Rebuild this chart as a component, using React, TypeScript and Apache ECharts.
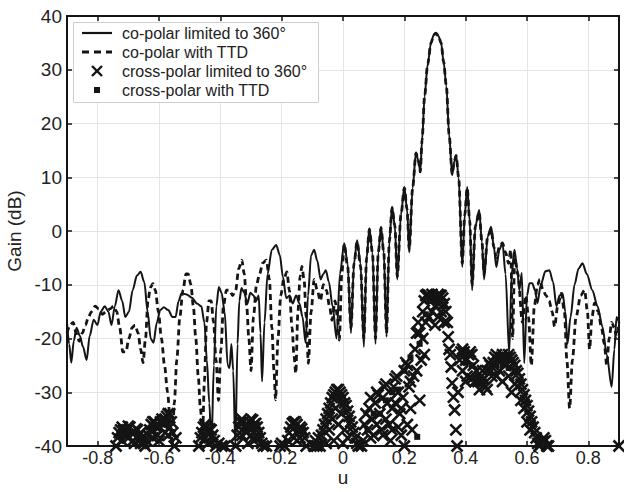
import React, { useEffect, useRef } from "react";
import * as echarts from "echarts";

const xTicks = [-0.8, -0.6, -0.4, -0.2, 0, 0.2, 0.4, 0.6, 0.8];
const yTicks = [-40, -30, -20, -10, 0, 10, 20, 30, 40];

const legendNames = [
  "co-polar limited to 360°",
  "co-polar with TTD",
  "cross-polar limited to 360°",
  "cross-polar with TTD",
];

const coPolar360: number[][] = [
  [-0.9, -17], [-0.893, -21], [-0.886, -24.5], [-0.878, -20.5], [-0.869, -18], [-0.858, -19.5],
  [-0.848, -21.5], [-0.836, -24], [-0.826, -19.5], [-0.813, -16.5], [-0.801, -17.5], [-0.79, -15],
  [-0.777, -14], [-0.765, -15], [-0.755, -17.5], [-0.744, -14], [-0.732, -11], [-0.72, -13],
  [-0.71, -16], [-0.698, -15], [-0.686, -11], [-0.672, -8.3], [-0.66, -7.6], [-0.648, -9.5],
  [-0.637, -15], [-0.627, -20], [-0.618, -20.8], [-0.607, -17], [-0.596, -14.7], [-0.584, -14.2],
  [-0.57, -14.7], [-0.556, -16], [-0.546, -16], [-0.536, -13], [-0.526, -11.6], [-0.51, -11.8],
  [-0.493, -12.4], [-0.476, -13.5], [-0.462, -14], [-0.452, -17], [-0.444, -24], [-0.436, -32],
  [-0.429, -40], [-0.421, -25], [-0.413, -14], [-0.405, -10.4], [-0.396, -11.5], [-0.386, -15],
  [-0.376, -25], [-0.37, -25.5], [-0.364, -21], [-0.358, -26], [-0.351, -40], [-0.344, -21],
  [-0.338, -13], [-0.331, -10.6], [-0.322, -11.5], [-0.312, -13.5], [-0.302, -11.5], [-0.292, -12],
  [-0.283, -13], [-0.275, -12], [-0.269, -19], [-0.264, -28], [-0.256, -17], [-0.246, -8],
  [-0.232, -3.5], [-0.218, -2.6], [-0.206, -4.5], [-0.196, -8.5], [-0.185, -12.5], [-0.174, -12],
  [-0.164, -13.5], [-0.153, -12], [-0.142, -13.5], [-0.132, -16], [-0.122, -20.8], [-0.114, -12],
  [-0.104, -4.5], [-0.094, -3.5], [-0.084, -5.5], [-0.073, -9], [-0.064, -8], [-0.056, -7.3],
  [-0.046, -9.5], [-0.034, -14], [-0.021, -20], [-0.01, -8], [0.004, -2.3], [0.015, -6],
  [0.026, -19], [0.036, -6], [0.046, -1.7], [0.057, -6], [0.068, -21.6], [0.077, -5],
  [0.086, 0.5], [0.096, -4], [0.106, -21], [0.115, -4], [0.124, 0.8], [0.133, -4],
  [0.142, -19.7], [0.151, -2], [0.16, 4.5], [0.169, 1], [0.177, -9], [0.189, 3],
  [0.2, 8.2], [0.209, 4], [0.216, -4], [0.227, 8], [0.238, 14.6], [0.246, 13],
  [0.252, 11], [0.258, 17], [0.266, 25], [0.276, 31], [0.287, 35], [0.296, 36.5],
  [0.303, 36.8], [0.311, 36.3], [0.32, 35], [0.328, 31.5], [0.337, 27], [0.346, 18],
  [0.356, 10.4], [0.363, 13], [0.369, 14.1], [0.377, 10], [0.389, -6.7], [0.397, 3],
  [0.405, 8.2], [0.413, 2], [0.421, -11], [0.432, 1], [0.444, 3.9], [0.453, -2],
  [0.46, -9], [0.472, -1], [0.483, 0.8], [0.492, -3], [0.5, -6.7], [0.51, -3.5],
  [0.52, -2.2], [0.53, -8], [0.542, -22.8], [0.55, -8], [0.559, -3.5], [0.568, -7],
  [0.575, -11], [0.583, -7.8], [0.591, -24.6], [0.6, -12], [0.608, -9.7], [0.617, -9.7],
  [0.626, -11], [0.634, -13.4], [0.645, -10], [0.66, -7.5], [0.673, -7.3], [0.685, -9.5],
  [0.696, -14], [0.706, -12], [0.716, -11.6], [0.725, -15], [0.732, -21], [0.742, -16],
  [0.755, -10], [0.768, -7], [0.781, -6], [0.795, -8], [0.813, -11], [0.83, -14],
  [0.846, -17.8], [0.86, -23], [0.876, -29], [0.885, -22], [0.892, -16], [0.9, -17],
];

const coPolarTTD: number[][] = [
  [-0.9, -19], [-0.89, -17.5], [-0.88, -17], [-0.87, -19], [-0.86, -20.5], [-0.85, -19],
  [-0.84, -17.5], [-0.83, -16], [-0.82, -15], [-0.808, -14], [-0.796, -14.5], [-0.785, -15.5],
  [-0.772, -15], [-0.76, -14.5], [-0.748, -14], [-0.738, -15], [-0.728, -18], [-0.718, -22.5],
  [-0.708, -22.5], [-0.698, -20], [-0.688, -18], [-0.678, -17.5], [-0.668, -19], [-0.66, -22],
  [-0.652, -24.5], [-0.644, -20], [-0.636, -13], [-0.628, -10.5], [-0.62, -9.8], [-0.612, -11],
  [-0.602, -15], [-0.592, -20], [-0.582, -25], [-0.572, -30], [-0.564, -35], [-0.557, -40],
  [-0.55, -32], [-0.542, -24], [-0.532, -16], [-0.522, -11], [-0.512, -8], [-0.505, -8],
  [-0.496, -10], [-0.488, -14], [-0.48, -20], [-0.472, -27], [-0.465, -33], [-0.458, -38],
  [-0.452, -28], [-0.445, -17], [-0.437, -13], [-0.43, -13], [-0.422, -17], [-0.414, -24],
  [-0.406, -31.5], [-0.398, -22], [-0.39, -14], [-0.38, -11], [-0.37, -11], [-0.36, -12],
  [-0.35, -11], [-0.34, -7], [-0.33, -5.4], [-0.322, -8], [-0.314, -14], [-0.307, -20],
  [-0.3, -26], [-0.292, -16], [-0.282, -10], [-0.272, -8], [-0.262, -6], [-0.25, -5.4],
  [-0.24, -9], [-0.232, -18], [-0.225, -26], [-0.22, -31.4], [-0.212, -20], [-0.203, -12],
  [-0.193, -9], [-0.183, -7.6], [-0.175, -11], [-0.166, -18], [-0.16, -23], [-0.154, -26.5],
  [-0.147, -15], [-0.14, -8.5], [-0.134, -6.6], [-0.127, -9], [-0.12, -16], [-0.113, -24.6],
  [-0.104, -15], [-0.094, -9], [-0.084, -11], [-0.074, -13], [-0.064, -10], [-0.054, -11],
  [-0.044, -14], [-0.036, -16.6], [-0.026, -13], [-0.018, -16], [-0.012, -20.3], [-0.004, -8],
  [0.004, -2.5], [0.015, -6.5], [0.026, -18], [0.036, -6], [0.046, -2], [0.057, -6.5],
  [0.068, -20], [0.077, -5], [0.086, 0.3], [0.096, -4], [0.106, -20], [0.115, -4],
  [0.124, 0.6], [0.133, -4], [0.142, -19], [0.151, -2], [0.16, 4.3], [0.169, 1],
  [0.177, -8.5], [0.189, 3], [0.2, 8], [0.209, 4], [0.216, -3.5], [0.227, 8],
  [0.238, 14.5], [0.246, 13], [0.252, 11], [0.258, 17], [0.266, 25], [0.276, 31],
  [0.287, 35], [0.296, 36.5], [0.303, 36.8], [0.311, 36.3], [0.32, 35], [0.328, 31.5],
  [0.337, 27], [0.346, 18], [0.356, 10.6], [0.363, 13], [0.369, 14], [0.377, 10],
  [0.389, -6], [0.397, 3], [0.405, 8], [0.413, 2], [0.421, -10], [0.432, 1],
  [0.444, 3.5], [0.453, -2], [0.46, -8], [0.472, -1], [0.483, 0.3], [0.492, -3],
  [0.5, -5], [0.51, -3], [0.52, -2.2], [0.53, -4], [0.54, -6], [0.547, -3.5],
  [0.553, -20], [0.56, -5], [0.57, -8], [0.585, -17], [0.596, -12], [0.605, -16],
  [0.614, -25], [0.624, -14], [0.634, -10], [0.642, -9], [0.652, -11], [0.662, -12],
  [0.672, -13], [0.682, -15], [0.69, -17.8], [0.7, -14], [0.712, -11.6], [0.722, -15],
  [0.73, -24], [0.739, -33], [0.748, -24], [0.76, -16], [0.775, -12], [0.788, -11],
  [0.797, -15], [0.804, -22], [0.812, -16], [0.82, -13.4], [0.832, -15], [0.843, -18],
  [0.852, -21], [0.86, -25], [0.868, -20], [0.876, -17], [0.885, -18], [0.892, -19.7],
  [0.9, -17],
];

const crossPolar360: number[][] = [
  // lobe around u = -0.69
  [-0.74, -40], [-0.735, -38.5], [-0.73, -37.5], [-0.725, -37], [-0.72, -36.5], [-0.715, -37],
  [-0.71, -38], [-0.705, -37], [-0.7, -36.3], [-0.695, -36.5], [-0.69, -37.5], [-0.685, -39],
  [-0.68, -37.5], [-0.675, -36.8], [-0.67, -37], [-0.665, -38], [-0.66, -37.5], [-0.655, -38.5],
  [-0.65, -39.5], [-0.645, -40], [-0.64, -39],
  [-0.72, -39], [-0.7, -38.5], [-0.68, -39.5], [-0.66, -39.5],
  // lobe around u = -0.59
  [-0.635, -38], [-0.63, -37], [-0.625, -36], [-0.62, -35.5], [-0.615, -35.5], [-0.61, -36.5],
  [-0.605, -38], [-0.6, -36.5], [-0.595, -35.5], [-0.59, -35], [-0.585, -36], [-0.58, -35],
  [-0.575, -34.5], [-0.57, -34], [-0.565, -34], [-0.56, -35.5], [-0.555, -37.5], [-0.55, -40],
  [-0.545, -38.5],
  [-0.62, -38.5], [-0.6, -39], [-0.58, -37.5], [-0.57, -38], [-0.565, -36.5],
  // lobe around u = -0.44
  [-0.47, -40], [-0.465, -38.5], [-0.46, -37.5], [-0.455, -36.5], [-0.45, -36], [-0.445, -36.5],
  [-0.44, -37.5], [-0.435, -36.8], [-0.43, -37], [-0.425, -38], [-0.42, -39], [-0.415, -40],
  [-0.405, -39.5], [-0.395, -40], [-0.385, -40], [-0.45, -38.5], [-0.44, -39.5],
  // lobe around u = -0.30
  [-0.35, -40], [-0.345, -38], [-0.34, -36.5], [-0.335, -35.5], [-0.33, -35], [-0.325, -35.5],
  [-0.32, -36.5], [-0.315, -37.5], [-0.31, -36.5], [-0.305, -35.5], [-0.3, -35], [-0.295, -35.2],
  [-0.29, -36], [-0.285, -35.8], [-0.28, -36.5], [-0.275, -37.5], [-0.27, -38.5], [-0.265, -39.5],
  [-0.26, -40], [-0.25, -40],
  [-0.33, -38], [-0.31, -39.5], [-0.3, -38], [-0.29, -39], [-0.28, -38.5],
  // lobe around u = -0.15
  [-0.205, -40], [-0.2, -39.5], [-0.19, -40], [-0.18, -39], [-0.175, -37.5], [-0.17, -36.5],
  [-0.165, -35.8], [-0.16, -35.5], [-0.155, -35.5], [-0.15, -36], [-0.145, -37], [-0.14, -36.5],
  [-0.135, -36.8], [-0.13, -37.5], [-0.125, -38.5], [-0.12, -40],
  [-0.16, -38.5], [-0.15, -39], [-0.14, -38.5],
  // lobe around u = -0.02
  [-0.095, -40], [-0.09, -39], [-0.085, -40], [-0.08, -38.5], [-0.075, -40], [-0.07, -38],
  [-0.065, -37], [-0.06, -36], [-0.055, -35], [-0.05, -34], [-0.045, -33], [-0.04, -32],
  [-0.035, -31], [-0.03, -30.5], [-0.025, -30], [-0.02, -29.5], [-0.015, -29.5], [-0.01, -30],
  [-0.005, -30.5], [0, -31], [0.005, -32], [0.01, -32.5], [0.015, -33.5], [0.02, -34.5],
  [0.025, -35.5], [0.03, -36.5], [0.035, -37.5], [0.04, -38.5], [0.045, -39.5], [0.05, -40],
  [0.06, -40],
  [-0.055, -39.5], [-0.045, -37], [-0.035, -35], [-0.03, -39], [-0.025, -33], [-0.015, -36],
  [-0.005, -34], [0, -39.5], [0.005, -37], [0.015, -38.5],
  // rising region and main cross-polar lobe
  [0.065, -39], [0.07, -36], [0.075, -34], [0.08, -37], [0.085, -33], [0.09, -31],
  [0.095, -35], [0.1, -38], [0.105, -32], [0.11, -30], [0.115, -30.5], [0.12, -34],
  [0.125, -37], [0.13, -31], [0.135, -29], [0.14, -28.5], [0.145, -32], [0.15, -36],
  [0.155, -39], [0.16, -33], [0.165, -29], [0.17, -27.5], [0.175, -27], [0.18, -30],
  [0.185, -34], [0.19, -38], [0.195, -31], [0.2, -26], [0.2, -40], [0.205, -24.5],
  [0.21, -25], [0.215, -29], [0.22, -33], [0.225, -37], [0.23, -27], [0.235, -22],
  [0.24, -19], [0.245, -17], [0.25, -19], [0.255, -24], [0.26, -15], [0.265, -13],
  [0.27, -12], [0.275, -11.8], [0.28, -12], [0.285, -12.5], [0.29, -11.8], [0.295, -12.5],
  [0.3, -14], [0.305, -12.5], [0.31, -11.8], [0.315, -12], [0.32, -12], [0.325, -12.5],
  [0.33, -13.5], [0.335, -15], [0.34, -17], [0.343, -19.7], [0.346, -22], [0.35, -23],
  [0.353, -25.3], [0.356, -28.3], [0.36, -30.9], [0.364, -33.3], [0.368, -37], [0.372, -40],
  [0.09, -38.5], [0.11, -36], [0.13, -38], [0.14, -35], [0.16, -37], [0.17, -32],
  [0.18, -36.5], [0.19, -33], [0.21, -36], [0.22, -28], [0.24, -26], [0.25, -31.5],
  [0.26, -20], [0.265, -23], [0.27, -17], [0.28, -16], [0.29, -15], [0.3, -17.5],
  [0.31, -16], [0.32, -15], [0.33, -17],
  // shoulder lobes to the right
  [0.375, -30], [0.38, -24], [0.385, -22.5], [0.39, -22], [0.395, -22.5], [0.4, -24],
  [0.405, -27], [0.41, -23], [0.415, -22.5], [0.42, -23], [0.425, -25], [0.43, -28],
  [0.435, -26], [0.44, -28], [0.445, -29.5], [0.45, -28], [0.455, -26], [0.46, -27.5],
  [0.465, -29], [0.47, -26], [0.475, -24.5], [0.48, -25], [0.485, -27], [0.49, -24.5],
  [0.495, -23.5], [0.5, -23], [0.505, -24], [0.51, -26], [0.515, -23.5], [0.52, -23],
  [0.525, -23.5], [0.53, -25], [0.535, -23.5], [0.54, -23], [0.545, -23.5], [0.55, -24],
  [0.555, -24.5], [0.56, -25], [0.565, -26], [0.57, -26.5], [0.575, -27.5], [0.58, -28.5],
  [0.585, -29.5], [0.59, -30.5], [0.595, -31.5], [0.6, -32.5], [0.605, -33.5], [0.61, -34.5],
  [0.615, -35.5], [0.62, -36.5], [0.625, -37.5], [0.63, -38.5], [0.635, -39.5], [0.64, -40],
  [0.645, -39.5], [0.65, -39], [0.655, -38.5], [0.66, -39], [0.665, -40], [0.67, -40],
  [0.39, -26], [0.4, -28], [0.42, -27.5], [0.47, -29.5], [0.5, -27], [0.52, -28],
  [0.54, -27], [0.55, -30], [0.56, -28.5], [0.58, -31.5], [0.59, -33], [0.6, -35.5],
  [0.61, -37],
  [0.9, -40],
];

const crossPolarTTD: number[][] = [
  [-0.72, -38], [-0.7, -37], [-0.68, -37.5], [-0.62, -37], [-0.6, -36], [-0.58, -36],
  [-0.44, -37.5], [-0.32, -36], [-0.3, -36.5], [-0.28, -36], [-0.15, -37], [-0.13, -37],
  [-0.04, -34], [-0.02, -31], [0, -32], [0.02, -35], [0.08, -37], [0.1, -34],
  [0.12, -34], [0.14, -31.5], [0.16, -30], [0.18, -29.5], [0.2, -26], [0.22, -23.5],
  [0.242, -38.3], [0.25, -21], [0.27, -15.5], [0.29, -13], [0.31, -13.5], [0.33, -14],
  [0.4, -24.5], [0.42, -25], [0.44, -27], [0.46, -28], [0.48, -26], [0.5, -25],
  [0.52, -25], [0.54, -25.5], [0.56, -26], [0.58, -28], [0.6, -32], [0.62, -36],
  [0.64, -39],
];

const FONT = "'Liberation Sans', Arial, Helvetica, sans-serif";
const INK = "#141414";
const X_PATH = "path://M0,0L10,10M10,0L0,10";

export default function App() {
  const ref = useRef<HTMLDivElement>(null);

  useEffect(() => {
    document.body.style.margin = "0";
    if (!ref.current) return;
    const chart = echarts.init(ref.current, undefined, { renderer: "svg" });

    const axisCommon = {
      type: "value" as const,
      axisLine: { show: true, onZero: false, lineStyle: { color: INK, width: 2 } },
      axisTick: { show: true, inside: true, length: 5, lineStyle: { color: INK, width: 1.5 } },
    };

    const legendRows = [33, 52, 71, 90];

    chart.setOption({
      animation: false,
      backgroundColor: "#ffffff",
      grid: {
        left: 67,
        right: 5,
        top: 16,
        bottom: 46,
        containLabel: false,
        outerBoundsMode: "none",
      },
      xAxis: [
        {
          ...axisCommon,
          position: "bottom",
          min: -0.9,
          max: 0.9,
          name: "u",
          nameLocation: "middle",
          nameGap: 22,
          nameMoveOverlap: false,
          nameTextStyle: { fontFamily: FONT, fontSize: 19, color: "#222" },
          axisTick: { ...axisCommon.axisTick, customValues: xTicks },
          axisLabel: {
            customValues: xTicks,
            fontFamily: FONT,
            fontSize: 18,
            color: "#222",
            margin: 3,
            formatter: (v: number) => (Math.abs(v) < 1e-9 ? "0" : v.toFixed(1)),
          },
          splitLine: { show: true, lineStyle: { color: "#e4e4e4", width: 1 } },
        },
        {
          ...axisCommon,
          position: "top",
          min: -0.9,
          max: 0.9,
          axisTick: { ...axisCommon.axisTick, customValues: xTicks },
          axisLabel: { show: false },
          splitLine: { show: false },
        },
      ],
      yAxis: [
        {
          ...axisCommon,
          position: "left",
          min: -40,
          max: 40,
          interval: 10,
          name: "Gain (dB)",
          nameLocation: "middle",
          nameGap: 43,
          nameMoveOverlap: false,
          nameTextStyle: { fontFamily: FONT, fontSize: 19, color: "#222" },
          axisLabel: {
            fontFamily: FONT,
            fontSize: 19,
            color: "#222",
            margin: 5,
            customValues: yTicks,
          },
          splitLine: { show: true, lineStyle: { color: "#e4e4e4", width: 1 } },
        },
        {
          ...axisCommon,
          position: "right",
          min: -40,
          max: 40,
          interval: 10,
          axisLabel: { show: false },
          splitLine: { show: false },
        },
      ],
      series: [
        {
          name: legendNames[0],
          type: "line",
          data: coPolar360,
          showSymbol: false,
          smooth: 0.3,
          smoothMonotone: "x",
          lineStyle: { color: INK, width: 2 },
          clip: true,
          z: 3,
        },
        {
          name: legendNames[1],
          type: "line",
          data: coPolarTTD,
          showSymbol: false,
          smooth: 0.3,
          smoothMonotone: "x",
          lineStyle: { color: INK, width: 2.8, type: [6, 4] },
          clip: true,
          z: 3,
        },
        {
          name: legendNames[2],
          type: "scatter",
          data: crossPolar360,
          symbol: X_PATH,
          symbolSize: 11,
          itemStyle: { color: INK, borderColor: INK, borderWidth: 2.6, opacity: 1 },
          clip: true,
          z: 4,
        },
        {
          name: legendNames[3],
          type: "scatter",
          data: crossPolarTTD,
          symbol: "rect",
          symbolSize: 6,
          itemStyle: { color: INK, opacity: 1 },
          clip: true,
          z: 4,
        },
      ],
      graphic: [
        {
          type: "rect",
          z: 100,
          shape: { x: 73.5, y: 22.5, width: 245, height: 80 },
          style: { fill: "#ffffff", stroke: "#cfcfcf", lineWidth: 1 },
        },
        {
          type: "line",
          z: 101,
          shape: { x1: 82, y1: legendRows[0], x2: 112, y2: legendRows[0] },
          style: { stroke: INK, lineWidth: 2.2 },
        },
        {
          type: "line",
          z: 101,
          shape: { x1: 82, y1: legendRows[1], x2: 112, y2: legendRows[1] },
          style: { stroke: INK, lineWidth: 2.8, lineDash: [7, 5] },
        },
        {
          type: "line",
          z: 101,
          shape: { x1: 92, y1: legendRows[2] - 5, x2: 102, y2: legendRows[2] + 5 },
          style: { stroke: INK, lineWidth: 2.4 },
        },
        {
          type: "line",
          z: 101,
          shape: { x1: 102, y1: legendRows[2] - 5, x2: 92, y2: legendRows[2] + 5 },
          style: { stroke: INK, lineWidth: 2.4 },
        },
        {
          type: "rect",
          z: 101,
          shape: { x: 94, y: legendRows[3] - 3, width: 6, height: 6 },
          style: { fill: INK },
        },
        ...legendNames.map((name, i) => ({
          type: "text",
          z: 101,
          x: 122,
          y: legendRows[i],
          style: {
            text: name,
            fontFamily: FONT,
            fontSize: 16,
            fill: "#222",
            verticalAlign: "middle",
            align: "left",
          },
        })),
      ],
    });

    return () => chart.dispose();
  }, []);

  return <div ref={ref} style={{ width: 624, height: 492 }} />;
}
